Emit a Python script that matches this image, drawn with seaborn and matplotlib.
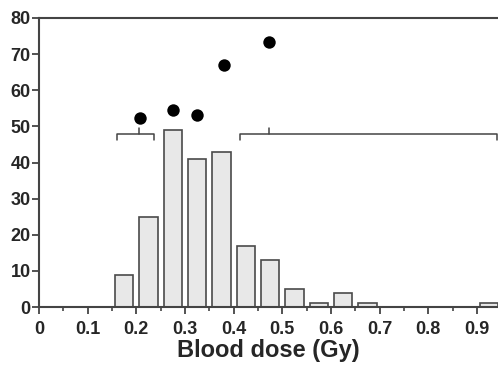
import numpy as np
import pandas as pd
import seaborn as sns
import matplotlib.pyplot as plt
from matplotlib.ticker import MultipleLocator

# histogram bins (centres, Gy) and counts
bin_centres = [0.175, 0.225, 0.275, 0.325, 0.375, 0.425, 0.475, 0.525,
               0.575, 0.625, 0.675, 0.725, 0.775, 0.825, 0.875, 0.925]
counts = [9, 25, 49, 41, 43, 17, 13, 5, 1, 4, 1, 0, 0, 0, 0, 1]

# black dots above the bars
dot_x = [0.207, 0.275, 0.324, 0.380, 0.472]
dot_y = [52.3, 54.5, 53.2, 67.0, 73.4]

# brackets: start, end, middle tick
bracket_start = [0.160, 0.414]
bracket_end = [0.236, 0.940]
bracket_mid = [0.205, 0.472]
bracket_y = 48

sns.set_style("white")
plt.rcParams['font.family'] = ['Liberation Sans', 'DejaVu Sans']

fig = plt.figure(figsize=(4.98, 3.66), dpi=100)
ax = fig.add_axes([0.078, 0.161, 0.922, 0.79])

df = pd.DataFrame({"dose": bin_centres, "n": counts})
sns.barplot(data=df, x="dose", y="n", native_scale=True, width=0.75,
            color="#e8e8e8", edgecolor="#4a4a4a", linewidth=1.2,
            saturation=1, ax=ax)

sns.scatterplot(x=dot_x, y=dot_y, color="black", s=80, edgecolor="black",
                linewidth=0, ax=ax, zorder=5)

for x0, x1, xm in zip(bracket_start, bracket_end, bracket_mid):
    ax.plot([x0, x0, x1, x1], [bracket_y - 1.8, bracket_y, bracket_y, bracket_y - 1.8],
            color="#444444", lw=1.1, clip_on=False)
    ax.plot([xm, xm], [bracket_y, bracket_y + 1.5], color="#444444", lw=1.1)

ax.set_xlim(0, 0.943)
ax.set_ylim(0, 80)
ax.xaxis.set_minor_locator(MultipleLocator(0.05))
ax.yaxis.set_major_locator(MultipleLocator(10))
ax.set_xticks(np.arange(0, 0.95, 0.1))
ax.set_xticklabels(["0", "0.1", "0.2", "0.3", "0.4", "0.5", "0.6", "0.7", "0.8", "0.9"])
ax.tick_params(axis="both", which="major", direction="out", length=5, width=1.3,
               color="#444444", labelsize=13, pad=5)
ax.tick_params(axis="x", which="minor", direction="out", length=3, width=1.2,
               color="#444444", bottom=True)
ax.tick_params(axis="x", bottom=True)
ax.tick_params(axis="y", left=True, pad=1)
for lab in ax.get_xticklabels() + ax.get_yticklabels():
    lab.set_fontweight("bold")

ax.set_xlabel("Blood dose (Gy)", fontsize=17, fontweight="bold", labelpad=1)
ax.set_ylabel("")

for side in ["left", "bottom", "top"]:
    ax.spines[side].set_color("#444444")
    ax.spines[side].set_linewidth(1.5)
ax.spines["right"].set_visible(False)

fig.savefig("out.png", dpi=100)
